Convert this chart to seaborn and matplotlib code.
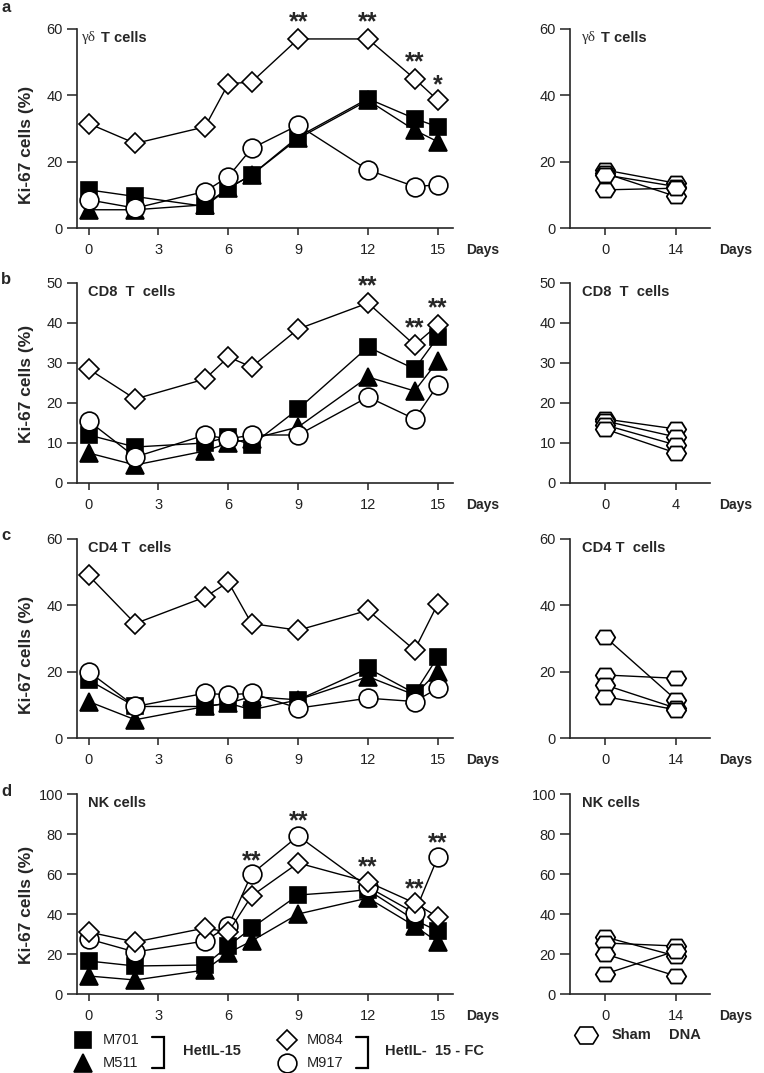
import matplotlib
matplotlib.use("Agg")
import matplotlib.pyplot as plt
import seaborn as sns
from matplotlib.path import Path
from matplotlib.transforms import offset_copy

sns.set_style("ticks")
plt.rcParams['font.family'] = ['Liberation Sans', 'DejaVu Sans']
plt.rcParams['axes.linewidth'] = 1.2

# time course (days after treatment)
days = [0, 2, 5, 6, 7, 9, 12, 14, 15]

# a: gamma-delta T cells
gd_M701 = [11.5, 9.5, 6.5, 12, 16, 27.5, 39, 33, 30.5]
gd_M511 = [5.5, 5.5, 7, 12, 16, 27, 38.5, 29.5, 26]
gd_M084 = [31.5, 25.5, 30.5, 43.5, 44, 57, 57, 45, 38.5]
gd_M917 = [8.5, 6, 11, 15.5, 24, 31, 17.5, 12.5, 13]

# b: CD8 T cells
cd8_M701 = [12, 9, 10, 11.5, 9.5, 18.5, 34, 28.5, 36.5]
cd8_M511 = [7.5, 4.5, 8, 10, 11, 14, 26.5, 23, 30.5]
cd8_M084 = [28.5, 21, 26, 31.5, 29, 38.5, 45, 34.5, 39.5]
cd8_M917 = [15.5, 6.5, 12, 11, 12, 12, 21.5, 16, 24.5]

# c: CD4 T cells
cd4_M701 = [17.5, 9.5, 9.5, 10.5, 8.5, 11.5, 21, 13.5, 24.5]
cd4_M511 = [11, 5.5, 9.5, 10.5, 12.5, 11.5, 18.5, 13, 20]
cd4_M084 = [49, 34.5, 42.5, 47, 34.5, 32.5, 38.5, 26.5, 40.5]
cd4_M917 = [20, 9.5, 13.5, 13, 13.5, 9, 12, 11, 15]

# d: NK cells
nk_M701 = [16.5, 14, 14.5, 24, 33, 49.5, 52, 37, 31.5]
nk_M511 = [9, 7, 12, 20.5, 26.5, 40, 48, 34, 26]
nk_M084 = [31, 26, 33, 31, 49, 65.5, 56, 45.5, 38.5]
nk_M917 = [27.5, 21, 26.5, 34, 60, 79, 53.5, 40.5, 68.5]

# sham DNA controls (day 0 -> day 14)
sham_days = [0, 14]
sham_gd_pre = [17.5, 16.5, 16, 11.5]
sham_gd_post = [13.5, 9.5, 12.5, 12]
sham_cd8_pre = [16, 15.5, 14.5, 13.5]
sham_cd8_post = [13.5, 11.5, 9.5, 7.5]
sham_cd4_pre = [30.5, 19, 16, 12.5]
sham_cd4_post = [11.5, 18, 9, 8.5]
sham_nk_pre = [28.5, 25.5, 20, 10]
sham_nk_post = [19, 24, 9, 21.5]

# significance marks: (day, value, label)
stars_gd = [(9, 64, '**'), (12, 64, '**'), (14, 52, '**'), (15, 45, '*')]
stars_cd8 = [(12, 51, '**'), (14, 40.5, '**'), (15, 45.5, '**')]
stars_cd4 = []
stars_nk = [(7, 70, '**'), (9, 90, '**'), (12, 67, '**'), (14, 56, '**'), (15, 79, '**')]

hexagon = Path([(-1, 0), (-0.55, 0.72), (0.55, 0.72), (1, 0), (0.55, -0.72),
                (-0.55, -0.72), (-1, 0)], closed=True)

styles = {
    'M701': dict(marker='s', markerfacecolor='black', markersize=12),
    'M511': dict(marker='^', markerfacecolor='black', markersize=12.5),
    'M917': dict(marker='o', markerfacecolor='white', markersize=13.5),
    'M084': dict(marker='D', markerfacecolor='white', markersize=10.5),
}

panels = [
    dict(letter='a', title='T cells', greek=True, ymax=60, step=20,
         series={'M511': gd_M511, 'M701': gd_M701, 'M917': gd_M917, 'M084': gd_M084},
         pre=sham_gd_pre, post=sham_gd_post, stars=stars_gd, xr=['0', '14'],
         top=29, bottom=228, ylab_c=145),
    dict(letter='b', title='CD8  T  cells', greek=False, ymax=50, step=10,
         series={'M511': cd8_M511, 'M701': cd8_M701, 'M917': cd8_M917, 'M084': cd8_M084},
         pre=sham_cd8_pre, post=sham_cd8_post, stars=stars_cd8, xr=['0', '4'],
         top=283, bottom=483, ylab_c=384),
    dict(letter='c', title='CD4 T  cells', greek=False, ymax=60, step=20,
         series={'M511': cd4_M511, 'M701': cd4_M701, 'M917': cd4_M917, 'M084': cd4_M084},
         pre=sham_cd4_pre, post=sham_cd4_post, stars=stars_cd4, xr=['0', '14'],
         top=539, bottom=738, ylab_c=655),
    dict(letter='d', title='NK cells', greek=False, ymax=100, step=20,
         series={'M511': nk_M511, 'M701': nk_M701, 'M917': nk_M917, 'M084': nk_M084},
         pre=sham_nk_pre, post=sham_nk_post, stars=stars_nk, xr=['0', '14'],
         top=794, bottom=994, ylab_c=905),
]

W, H = 764, 1073
fig = plt.figure(figsize=(W / 100, H / 100), dpi=100)


def fx(px):
    return px / W


def fy(py):
    return 1 - py / H


def style_axis(ax, ymax, step):
    ax.set_ylim(0, ymax)
    ax.set_yticks(range(0, ymax + 1, step))
    sns.despine(ax=ax)
    ax.tick_params(axis='x', length=5, width=1.1, pad=6, labelsize=10.5, colors='#222222')
    ax.tick_params(axis='y', length=7, width=1.1, pad=3, labelsize=10.5, colors='#222222')
    ax.set_xlabel('')
    ax.set_ylabel('')


def add_title(ax, p, dx):
    tr = offset_copy(ax.transAxes, fig=fig, x=dx, y=-9, units='dots')
    if p['greek']:
        ax.text(0, 1, 'γδ', transform=tr, ha='left', va='center', fontsize=11,
                family=['Liberation Serif', 'DejaVu Serif'], color='#333333')
        tr2 = offset_copy(ax.transAxes, fig=fig, x=dx + 19, y=-9, units='dots')
        ax.text(0, 1, p['title'], transform=tr2, ha='left', va='center',
                fontsize=10.5, fontweight='bold')
    else:
        ax.text(0, 1, p['title'], transform=tr, ha='left', va='center',
                fontsize=10.5, fontweight='bold')


for p in panels:
    h = p['bottom'] - p['top']
    axl = fig.add_axes([fx(77), fy(p['bottom']), fx(376), h / H])
    axr = fig.add_axes([fx(570), fy(p['bottom']), fx(140), h / H])

    for name, vals in p['series'].items():
        sns.lineplot(x=days, y=vals, ax=axl, color='black', linewidth=1.0,
                     markeredgecolor='black', markeredgewidth=1.2,
                     clip_on=False, **styles[name])
    for d, y, s in p['stars']:
        axl.annotate(s, xy=(d, y), xytext=(0, -10), textcoords='offset points',
                     ha='center', va='baseline', fontsize=18, fontweight='bold',
                     annotation_clip=False)
    axl.set_xlim(-0.5, 15.65)
    axl.set_xticks([0, 3, 6, 9, 12, 15])
    style_axis(axl, p['ymax'], p['step'])
    add_title(axl, p, 5 if p['greek'] else 11)

    for a, b in zip(p['pre'], p['post']):
        sns.lineplot(x=sham_days, y=[a, b], ax=axr, color='black', linewidth=1.0,
                     marker=hexagon, markersize=14, markerfacecolor='white',
                     markeredgecolor='black', markeredgewidth=1.3, clip_on=False)
    axr.set_xlim(-6.9, 20.7)
    axr.set_xticks(sham_days)
    axr.set_xticklabels(p['xr'])
    style_axis(axr, p['ymax'], p['step'])
    add_title(axr, p, 12)

    lab_y = fy(p['bottom'] + 22)
    fig.text(fx(483), lab_y, 'Days', ha='center', va='center', fontsize=10, fontweight='bold')
    fig.text(fx(736), lab_y, 'Days', ha='center', va='center', fontsize=10, fontweight='bold')
    fig.text(fx(27), fy(p['ylab_c']), 'Ki-67 cells (%)', rotation=90, ha='center',
             va='center', fontsize=12.5, fontweight='bold')
    fig.text(fx(6), fy(p['top'] - 22 if p['letter'] == 'a' else p['top'] - 3),
             p['letter'], ha='center', va='center', fontsize=12, fontweight='bold')

# legend drawn in pixel coordinates
leg = fig.add_axes([0, 0, 1, 1])
leg.set_xlim(0, W)
leg.set_ylim(H, 0)
leg.axis('off')
leg.patch.set_alpha(0)

leg_names = ['M701', 'M511', 'M084', 'M917']
leg_xy = [(83, 1040), (83, 1063), (287, 1040), (287, 1063)]
for name, (x, y) in zip(leg_names, leg_xy):
    leg.plot([x], [y], linestyle='none', markeredgecolor='black',
             markeredgewidth=1.2, clip_on=False, **styles[name])
    leg.text(x + 20, y, name, ha='left', va='center', fontsize=10.5, color='#222222')

for x0 in (152, 356):
    leg.plot([x0, x0 + 12, x0 + 12, x0], [1037, 1037, 1068, 1068], color='black',
             linewidth=1.6, solid_joinstyle='miter')
leg.text(183, 1051, 'HetIL-15', ha='left', va='center', fontsize=10.5, fontweight='bold')
leg.text(385, 1051, 'HetIL-  15 - FC', ha='left', va='center', fontsize=10.5,
         fontweight='bold')
leg.plot([586], [1035], marker=hexagon, markersize=17, markerfacecolor='white',
         markeredgecolor='black', markeredgewidth=1.2, linestyle='none')
leg.text(612, 1035, 'Sham', ha='left', va='center', fontsize=10.5, fontweight='bold')
leg.text(669, 1035, 'DNA', ha='left', va='center', fontsize=10.5, fontweight='bold')

fig.savefig('out.png', dpi=100, facecolor='white')
